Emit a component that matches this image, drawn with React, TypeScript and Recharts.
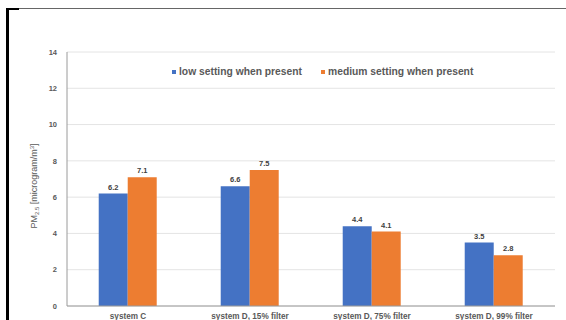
import React from "react";
import { BarChart, Bar, XAxis, YAxis, CartesianGrid, LabelList } from "recharts";

const categories = ["system C", "system D, 15% filter", "system D, 75% filter", "system D, 99% filter"];
const lowSetting = [6.2, 6.6, 4.4, 3.5];
const mediumSetting = [7.1, 7.5, 4.1, 2.8];
const yTicks = [0, 2, 4, 6, 8, 10, 12, 14];
const seriesNames = ["low setting when present", "medium setting when present"];

const data = categories.map((c, i) => ({ name: c, low: lowSetting[i], medium: mediumSetting[i] }));

const FONT = "'Liberation Sans', Arial, sans-serif";
const BLUE = "#4472C4";
const ORANGE = "#ED7D31";

const LegendBox = () => (
  <div style={{ position: "absolute", left: 172, top: 66, display: "flex", fontFamily: FONT, fontSize: 10.3, fontWeight: 700, color: "#595959", lineHeight: "12px", whiteSpace: "nowrap" }}>
    <span style={{ display: "flex", alignItems: "center", width: 149 }}>
      <span style={{ width: 4, height: 4, background: BLUE, marginRight: 3 }} />
      {seriesNames[0]}
    </span>
    <span style={{ display: "flex", alignItems: "center" }}>
      <span style={{ width: 4, height: 4, background: ORANGE, marginRight: 3 }} />
      {seriesNames[1]}
    </span>
  </div>
);

const YLabel = () => (
  <text x={37} y={186} transform="rotate(-90 37 186)" textAnchor="middle" fontFamily={FONT} fontSize={9} fill="#595959">
    PM<tspan fontSize={6} dy={2}>2.5</tspan>
    <tspan dy={-2}> [microgram/m</tspan>
    <tspan fontSize={6} dy={-3}>3</tspan>
    <tspan dy={3}>]</tspan>
  </text>
);

export default function App() {
  return (
    <div style={{ position: "absolute", left: 0, top: 0, width: 566, height: 320, background: "#fff", overflow: "hidden" }}>
      <BarChart
        width={566}
        height={320}
        data={data}
        margin={{ top: 52, right: 11, bottom: 0, left: 0 }}
        barCategoryGap="26%"
        barGap={0}
        style={{ position: "absolute", left: 0, top: 0 }}
      >
        <CartesianGrid vertical={false} stroke="#e4e4e4" />
        <XAxis
          dataKey="name"
          height={14}
          tickLine={false}
          axisLine={{ stroke: "#9a9a9a" }}
          tickMargin={1}
          tick={{ fontFamily: FONT, fontSize: 8.2, fontWeight: 700, fill: "#595959" }}
          interval={0}
        />
        <YAxis
          width={67}
          domain={[0, 14]}
          ticks={yTicks}
          tickLine={false}
          axisLine={{ stroke: "#9a9a9a" }}
          tickMargin={4}
          tick={{ fontFamily: FONT, fontSize: 7.5, fontWeight: 700, fill: "#595959" }}
          label={<YLabel />}
        />
        <Bar dataKey="low" name={seriesNames[0]} fill={BLUE} isAnimationActive={false}>
          <LabelList dataKey="low" position="top" offset={4} style={{ fontFamily: FONT, fontSize: 7.5, fontWeight: 700, fill: "#404040" }} />
        </Bar>
        <Bar dataKey="medium" name={seriesNames[1]} fill={ORANGE} isAnimationActive={false}>
          <LabelList dataKey="medium" position="top" offset={4} style={{ fontFamily: FONT, fontSize: 7.5, fontWeight: 700, fill: "#404040" }} />
        </Bar>
      </BarChart>
      <LegendBox />
      <div style={{ position: "absolute", left: 6, top: 8, width: 3, height: 312, background: "#000" }} />
      <div style={{ position: "absolute", left: 6, top: 8, width: 13, height: 2, background: "#000" }} />
      <div style={{ position: "absolute", left: 19, top: 8, width: 547, height: 1, background: "#666" }} />
    </div>
  );
}
